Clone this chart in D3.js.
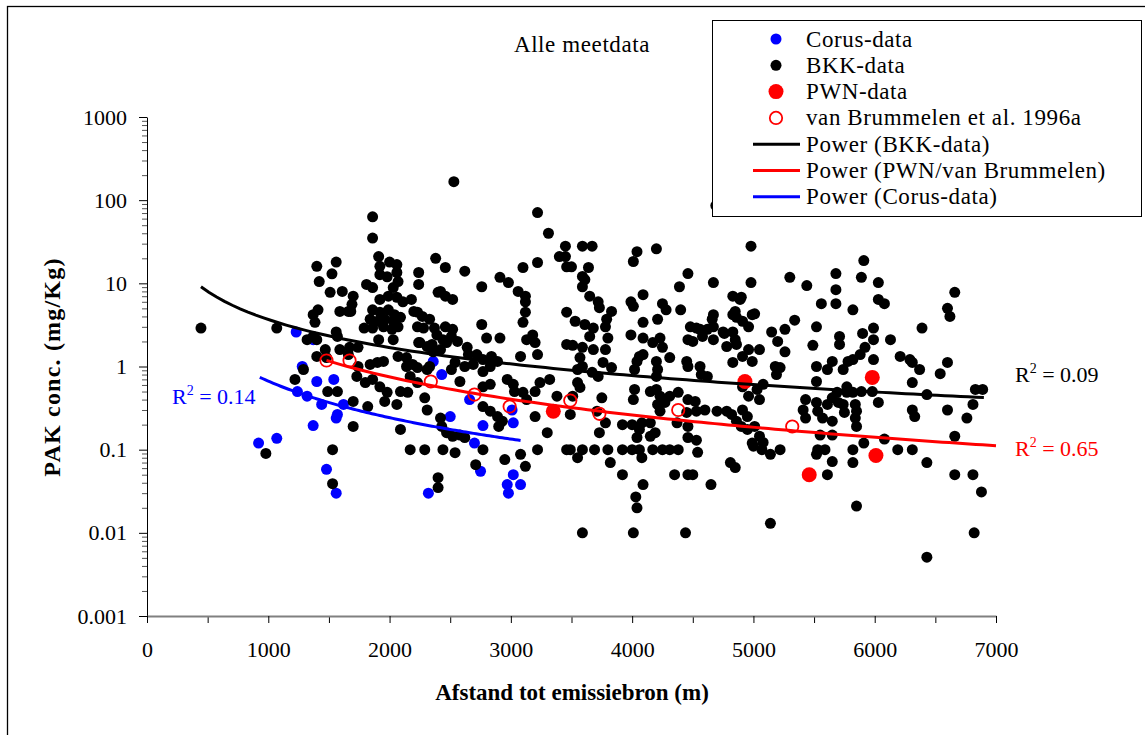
<!DOCTYPE html>
<html>
<head>
<meta charset="utf-8">
<script src="https://cdn.jsdelivr.net/npm/d3@7"></script>
<style>
body { margin: 0; background: #fff; }
svg { display: block; font-family: "Liberation Serif", "Times New Roman", serif; }
</style>
</head>
<body>
<svg width="1145" height="735"></svg>
<script>
// Corus-data (afstand m, PAK mg/Kg)
var corus = [
	[1230, 2.6], [1370, 2.1], [1280, 1.0], [1400, 0.66], [1540, 0.70], [1240, 0.50], [1320, 0.44],
	[1440, 0.35], [1620, 0.35], [1570, 0.265], [1560, 0.24], [1370, 0.195], [920, 0.12], [1070, 0.137],
	[2360, 1.15], [2430, 0.80], [2500, 0.25], [2660, 0.40], [2770, 0.195], [3010, 0.30], [3020, 0.21],
	[2700, 0.12], [2750, 0.055], [1480, 0.058], [1560, 0.030], [2320, 0.030], [2970, 0.038], [3020, 0.050],
	[3080, 0.038], [2980, 0.030]
];

// BKK-data
var bkk = [
	[445,2.9],[1070,2.9],[980,0.09],[1220,0.7],[1290,0.92],
	[1400,16],[1420,10.5],[1370,4.2],[1410,4.8],[1385,3.4],[1320,2.1],[1370,2.3],[1400,2.1],[1400,1.32],[1480,1.28],[1470,1.6],
	[1560,18],[1525,13],[1510,7.8],[1610,8],[1560,2.6],[1570,2.3],[1590,4.6],[1590,1.6],[1490,0.5],[1570,0.5],[1530,0.1],[1530,0.039],
	[1700,7],[1690,5.6],[1680,4.6],[1660,4.6],[1670,1.7],[1740,1.7],[1660,1.39],[1700,0.38],[1700,0.19],[1730,0.76],[1740,1],[1790,2.9],
	[1800,0.64],[1810,9.7],[1860,8.9],[1840,1.06],[1860,0.7],[1820,0.33],[1860,63],[1860,35],[1900,1.12],[1860,4.8],[1860,2.9],[1840,3.7],
	[1910,21],[1920,16],[1920,12.7],[1980,12],[2000,18],[2060,16.8],[2060,13.5],[2070,10.5],[2030,8.9],[1920,6.4],[1990,7],[2060,6.8],
	[2110,6],[1920,4.5],[1990,4.8],[2040,4.2],[2090,3.9],[1900,3.5],[1960,3.7],[2030,3.5],[2070,3],[1950,3],[2020,2.8],[1910,2.1],
	[2030,2.1],[1950,1.15],[1920,0.57],[1980,0.49],[1960,0.38],[2060,0.35],[2090,0.5],[2150,0.49],[2070,1.32],[2140,1.28],[2190,1.06],
	[2140,1],[2090,0.175],[2170,0.76],[2230,0.64],[2170,0.1],[2180,6.4],[2240,13.5],[2240,9.7],[2230,4.5],[2200,4.6],[2240,1.94],[2230,0.97],
	[2270,4],[2230,3],[2280,2.9],[2330,3.7],[2370,2.9],[2250,1.94],[2310,1.74],[2350,1.84],[2420,1.6],[2470,1.94],[2360,1.5],[2310,0.92],
	[2330,1],[2290,0.42],[2310,0.3],[2380,20],[2460,15.5],[2420,8],[2460,7],[2520,6.4],[2390,2.4],[2440,2.1],[2510,2.3],[2560,2],
	[2520,2.8],[2460,3],[2400,7.8],[2420,0.24],[2430,0.19],[2470,0.16],[2520,0.145],[2580,0.15],[2290,0.1],[2440,0.1],[2540,0.092],
	[2400,0.046],[2400,0.035],[2540,1.12],[2510,0.92],[2530,167],[2580,0.66],
	[2620,14],[2760,9.1],[2620,1],[2690,1.06],[2640,1.7],[2650,1.39],[2720,1.39],[2770,1.21],[2840,1.32],[2770,0.87],[2830,1],[2890,1.15],
	[2760,3.2],[2800,2.2],[2910,2.2],[2910,11.8],[2980,10.2],[2770,0.57],[2830,0.61],[2770,0.33],[2830,0.29],[2890,0.25],[2900,0.19],
	[2930,0.22],[2770,0.1],[2710,0.066],[2950,0.076],[2620,0.14],
	[2970,0.7],[3020,0.61],[3100,0.49],[3200,0.5],[3240,0.64],[3060,8],[3120,7],[3120,6],[3120,4.5],[3100,3.4],[3100,15.5],[3220,17.8],
	[3220,71],[3310,40],[3180,2.4],[3200,1.94],[3130,2.1],[3220,1.39],[3080,1.32],[3030,0.5],[3130,0.4],[3200,0.25],[3080,0.088],
	[3120,0.063],[3220,0.1],
	[3320,0.7],[3380,0.44],[3300,0.16],[3460,0.1],[3450,28],[3400,21],[3450,21],[3460,15.8],[3460,4.5],[3460,1.84],[3500,15.8],[3510,1.8],
	[3530,3.5],[3550,0.92],[3550,0.64],[3570,0.56],[3510,0.44],[3490,0.265],[3490,0.1],[3550,0.08],[3570,1.28],[3590,1],
	[3590,28],[3670,28],[3640,15.5],[3590,12.1],[3610,11.1],[3590,9.1],[3650,7],[3720,6],[3730,5.1],[3610,3.2],[3680,2.9],[3650,2.3],
	[3590,1.7],[3680,1.6],[3780,1.6],[3670,0.85],[3720,0.76],[3760,1.12],[3830,0.97],[3830,4.6],[3790,3.7],[3780,3],[3800,2.2],[3750,0.42],
	[3780,0.21],[3710,0.29],[3730,0.16],[3590,0.1],[3690,0.1],[3800,0.1],[3820,0.07],[3590,0.01],[3920,0.05],
	[4010,18.3],[4040,24],[4200,26],[3990,6],[4010,5.3],[4090,7.3],[4250,5.7],[4280,4.8],[4090,3.4],[4210,3.7],[3990,2.4],[4090,2.2],
	[4230,2.2],[4170,1.94],[4250,1.7],[4060,1.32],[4040,1.15],[4020,0.92],[4090,1.39],[4200,1.15],[4210,0.92],[4200,0.76],[4020,0.53],
	[4010,0.4],[4150,0.5],[4200,0.53],[3920,0.2],[4000,0.2],[4080,0.21],[4150,0.21],[4060,0.175],[4040,0.14],[4150,0.145],[4190,0.16],
	[3920,0.1],[4000,0.1],[4060,0.1],[4170,0.1],[4080,0.08],[4090,0.038],[4030,0.027],[4040,0.02],[4010,0.01],[4230,0.44],[4270,0.37],
	[4210,0.35],[4230,0.29],
	[4310,1.28],[4400,4.8],[4390,9.1],[4460,13.1],[4310,0.44],[4380,0.49],[4460,0.4],[4520,0.38],[4530,0.29],[4450,0.28],[4370,0.21],
	[4460,0.19],[4310,0.1],[4380,0.1],[4250,0.1],[4540,0.093],[4460,0.14],[4530,0.13],[4450,1.15],[4460,1],[4560,1],[4480,3],[4530,2.9],
	[4460,2.1],[4500,2],[4350,0.05],[4460,0.05],[4500,0.05],[4440,0.01],
	[4620,2.8],[4670,3],[4660,3.7],[4670,4.2],[4580,2.3],[4670,2.1],[4570,0.8],[4620,0.76],[4670,10.2],[4600,0.3],[4700,0.29],[4780,0.29],
	[4820,0.265],[4650,0.038],[4810,0.07],[4850,0.061],[4750,2.6],[4830,2.6],[4780,1.74],[4860,1.84],[4850,2.1],[4830,7],[4890,6.4],
	[4830,4.2],[4860,3.9],[4850,4.6],[4830,1.12],[4690,86],[4760,2.5],[4560,2.8],
	[4980,28],[4980,10.2],[4900,6.8],[4910,3.5],[4960,3],[4990,4.2],[5010,4.3],[4910,1.32],[4960,1.6],[5050,1.6],[4990,1.15],[4910,0.57],
	[4960,0.44],[5030,0.53],[5050,0.4],[5080,0.61],[4910,0.3],[4950,0.25],[4860,0.22],[4900,0.19],[4950,0.175],[5010,0.19],[5050,0.145],
	[5080,0.122],[5000,0.11],[4990,0.12],[5070,0.1],[5140,0.088],[5220,0.1],[5150,2.6],[5200,2],[5260,1.5],[5260,2.8],[5180,1],[5220,0.97],
	[5190,0.8],[5140,0.013],
	[5300,11.8],[5440,9.4],[5340,3.6],[5430,0.4],[5410,0.3],[5430,0.24],[5520,0.37],[5530,0.29],[5610,0.35],[5570,0.24],[5520,3],[5490,1.8],
	[5520,1],[5610,0.92],[5520,0.66],[5550,0.15],[5530,0.1],[5590,0.1],[5520,0.088],[5560,5.7],[5610,0.05],
	[5680,13.1],[5680,8.4],[5680,5.7],[5650,1.15],[5740,0.92],[5650,0.42],[5700,0.37],[5690,0.49],[5770,0.57],[5770,0.49],[5820,0.49],
	[5740,0.35],[5750,0.28],[5840,0.35],[5850,0.29],[5840,0.24],[5850,0.19],[5650,0.22],[5650,0.15],[5650,0.072],[5710,2.3],[5710,1.84],
	[5820,1.21],[5780,1.15],[5820,4.8],[5820,0.1],[5820,0.07],[5850,0.021],[5890,11.8],[5910,18.8],[5900,2.5],[5880,1.39],
	[6030,10.2],[6030,6.4],[6080,5.7],[5990,2.9],[5990,2.1],[6130,2.1],[5920,1.7],[5990,1.21],[5890,0.5],[5980,0.5],[6030,0.37],[5910,0.12],
	[6080,0.134],[6210,1.32],[6190,0.1],
	[6290,1.21],[6310,1.12],[6370,0.92],[6310,0.64],[6310,0.3],[6330,0.25],[6310,0.1],[6430,0.46],[6430,0.07],[6390,2.9],[6540,0.82],
	[6600,1.12],[6600,5],[6620,4],[6660,7.8],[6600,0.3],[6660,0.145],[6760,0.24],[6810,0.35],[6830,0.53],[6890,0.53],[6660,0.05],
	[6810,0.05],[6880,0.031],[6430,0.0051],[6820,0.01]
];

// PWN-data
var pwn = [[3350, 0.29], [4930, 0.66], [5460, 0.050], [5980, 0.74], [6010, 0.085]];

// van Brummelen et al. 1996a
var brummelen = [
	[1480, 1.18], [1670, 1.18], [2340, 0.66], [2700, 0.46], [2990, 0.33],
	[3490, 0.39], [3730, 0.27], [4380, 0.30], [5320, 0.19]
];

// power trendlines y = a * x^b, drawn over [from, to]
var trendNames = ["Power (BKK-data)", "Power (PWN/van Brummelen)", "Power (Corus-data)"];
var trendA = [8420, 78000, 16000];
var trendB = [-1.12, -1.52, -1.46];
var trendFrom = [445, 1480, 930];
var trendTo = [6900, 7000, 3080];
var trendColors = ["#000000", "#ff0000", "#0000ff"];
var trendR2 = ["0.09", "0.65", "0.14"];

var xTicks = [0, 1000, 2000, 3000, 4000, 5000, 6000, 7000];
var yTicks = [0.001, 0.01, 0.1, 1, 10, 100, 1000];

var svg = d3.select("svg");

svg.append("rect")
	.attr("width", 1145).attr("height", 735).attr("fill", "#fff");
svg.append("rect")
	.attr("x", 7.5).attr("y", 6.5).attr("width", 1145).attr("height", 735)
	.attr("fill", "none").attr("stroke", "#000").attr("stroke-width", 1.3);

var x = d3.scaleLinear().domain([0, 7000]).range([147, 996]);
var y = d3.scaleLog().domain([0.001, 1000]).range([616, 117]);

// minor ticks
var yMinor = [];
yTicks.slice(0, -1).forEach(function (t) {
	for (var k = 2; k <= 9; k++) yMinor.push(t * k);
});
var xMinor = d3.range(500, 7000, 1000);

svg.append("g")
	.attr("transform", "translate(147,0)")
	.call(d3.axisLeft(y).tickValues(yMinor).tickSize(5).tickSizeOuter(0).tickFormat(""))
	.call(function (g) { g.select(".domain").remove(); })
	.selectAll("line").attr("stroke", "#555");

var yAxis = svg.append("g")
	.attr("transform", "translate(147,0)")
	.call(d3.axisLeft(y).tickValues(yTicks).tickSize(8).tickSizeOuter(0).tickPadding(12)
		.tickFormat(function (d) { return String(d); }));
yAxis.attr("font-family", null).attr("font-size", 22);
yAxis.selectAll("text").attr("fill", "#000");
yAxis.select(".domain").attr("stroke", "#000");

svg.append("g")
	.attr("transform", "translate(0,616)")
	.call(d3.axisBottom(x).tickValues(xMinor).tickSize(7).tickSizeOuter(0).tickFormat(""))
	.call(function (g) { g.select(".domain").remove(); });

var xAxis = svg.append("g")
	.attr("transform", "translate(0,616)")
	.call(d3.axisBottom(x).tickValues(xTicks).tickSize(7).tickSizeOuter(0).tickPadding(18)
		.tickFormat(function (d) { return String(d); }));
xAxis.attr("font-family", null).attr("font-size", 22);
xAxis.selectAll("text").attr("fill", "#000");
xAxis.select(".domain").attr("stroke", "#808080").attr("stroke-width", 2);

// axis titles
svg.append("text")
	.attr("x", 572).attr("y", 700)
	.attr("text-anchor", "middle").attr("font-size", 23).attr("font-weight", "bold")
	.text("Afstand tot emissiebron (m)");
svg.append("text")
	.attr("transform", "translate(60,367) rotate(-90)")
	.attr("text-anchor", "middle").attr("font-size", 24).attr("font-weight", "bold")
	.attr("letter-spacing", 1.2)
	.text("PAK conc. (mg/Kg)");
svg.append("text")
	.attr("x", 582).attr("y", 52)
	.attr("text-anchor", "middle").attr("font-size", 23).attr("letter-spacing", 0.6)
	.text("Alle meetdata");

// points
var plot = svg.append("g");
plot.selectAll(".corus").data(corus).enter().append("circle")
	.attr("cx", function (d) { return x(d[0]); })
	.attr("cy", function (d) { return y(d[1]); })
	.attr("r", 5.5).attr("fill", "#0000ff");
plot.selectAll(".bkk").data(bkk).enter().append("circle")
	.attr("cx", function (d) { return x(d[0]); })
	.attr("cy", function (d) { return y(d[1]); })
	.attr("r", 5.5).attr("fill", "#000");
plot.selectAll(".pwn").data(pwn).enter().append("circle")
	.attr("cx", function (d) { return x(d[0]); })
	.attr("cy", function (d) { return y(d[1]); })
	.attr("r", 7.5).attr("fill", "#ff0000");
plot.selectAll(".vb").data(brummelen).enter().append("circle")
	.attr("cx", function (d) { return x(d[0]); })
	.attr("cy", function (d) { return y(d[1]); })
	.attr("r", 6.2).attr("fill", "none").attr("stroke", "#ff0000").attr("stroke-width", 1.8);

// trendlines
var line = d3.line()
	.x(function (d) { return x(d[0]); })
	.y(function (d) { return y(d[1]); });
trendA.forEach(function (a, i) {
	var pts = d3.range(0, 101).map(function (k) {
		var xv = trendFrom[i] + (trendTo[i] - trendFrom[i]) * k / 100;
		return [xv, a * Math.pow(xv, trendB[i])];
	});
	plot.append("path")
		.attr("d", line(pts))
		.attr("fill", "none")
		.attr("stroke", trendColors[i])
		.attr("stroke-width", 3);
});

// R² labels
var r2Pos = [[1015, 382], [1015, 456], [172, 404]];
trendR2.forEach(function (r, i) {
	var t = svg.append("text")
		.attr("x", r2Pos[i][0]).attr("y", r2Pos[i][1])
		.attr("font-size", 22).attr("fill", trendColors[i]);
	t.append("tspan").text("R");
	t.append("tspan").attr("font-size", 14).attr("dy", -9).text("2");
	t.append("tspan").attr("dy", 9).text(" = " + r);
});

// legend
var legend = svg.append("g");
legend.append("rect")
	.attr("x", 712.5).attr("y", 20.5).attr("width", 429).attr("height", 196)
	.attr("fill", "#fff").attr("stroke", "#000").attr("stroke-width", 1);

var legendNames = ["Corus-data", "BKK-data", "PWN-data", "van Brummelen et al. 1996a"].concat(trendNames);
var rows = legend.selectAll(".row").data(legendNames).enter().append("g")
	.attr("transform", function (d, i) { return "translate(0," + (39 + i * 26.3) + ")"; });
rows.append("text")
	.attr("x", 806).attr("y", 7.5)
	.attr("font-size", 23).attr("letter-spacing", 0.6)
	.text(function (d) { return d; });

rows.filter(function (d, i) { return i === 0; }).append("circle")
	.attr("cx", 776).attr("r", 5.5).attr("fill", "#0000ff");
rows.filter(function (d, i) { return i === 1; }).append("circle")
	.attr("cx", 776).attr("r", 5.5).attr("fill", "#000");
rows.filter(function (d, i) { return i === 2; }).append("circle")
	.attr("cx", 776).attr("r", 7.5).attr("fill", "#ff0000");
rows.filter(function (d, i) { return i === 3; }).append("circle")
	.attr("cx", 776).attr("r", 6.2).attr("fill", "none").attr("stroke", "#ff0000").attr("stroke-width", 1.8);
rows.filter(function (d, i) { return i > 3; }).append("line")
	.attr("x1", 753).attr("x2", 800)
	.attr("stroke", function (d, i) { return trendColors[i]; })
	.attr("stroke-width", 3);
</script>
</body>
</html>
